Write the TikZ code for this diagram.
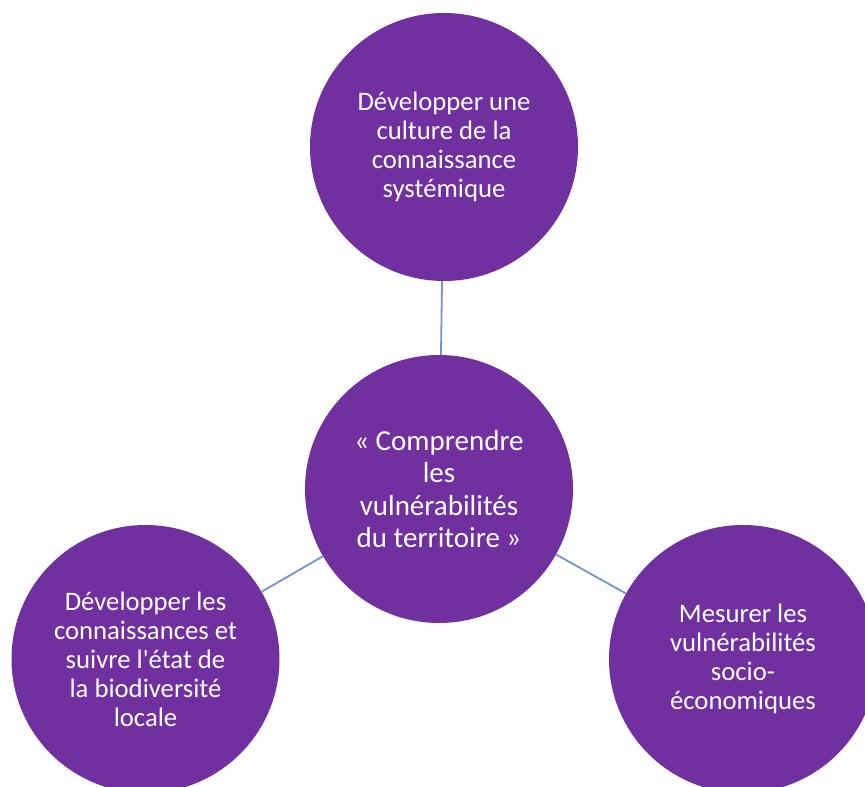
\documentclass[tikz,border=0pt]{standalone}
\usepackage{fontspec}
\setmainfont{Carlito}[Ligatures=TeXOff]
\definecolor{circpurple}{RGB}{112,48,160}
\definecolor{linkblue}{RGB}{114,147,208}
\begin{document}
\begin{tikzpicture}[x=1pt,y=-1pt,
  bubble/.style={circle,fill=circpurple,draw=none,minimum size=268pt,inner sep=0pt,
    text=white,align=center,font=\fontsize{26.7}{29}\selectfont},
  bigbubble/.style={bubble,font=\fontsize{29}{32.5}\selectfont},
  link/.style={draw=linkblue,line width=1.8pt}]
\useasboundingbox (0,0) rectangle (865,787);
\node[bigbubble] (c) at (439,489) {«~Comprendre\\les\\vulnérabilités\\du territoire~»};
\node[bubble] (t) at (444,147) {Développer une\\culture de la\\connaissance\\systémique};
\node[bubble] (l) at (145.5,659) {Développer les\\connaissances et\\suivre l'état de\\la biodiversité\\locale};
\node[bubble] (r) at (743,659) {Mesurer les\\vulnérabilités\\socio-\\économiques};
\draw[link] (c) -- (t);
\draw[link] (c) -- (l);
\draw[link] (c) -- (r);
\end{tikzpicture}
\end{document}
